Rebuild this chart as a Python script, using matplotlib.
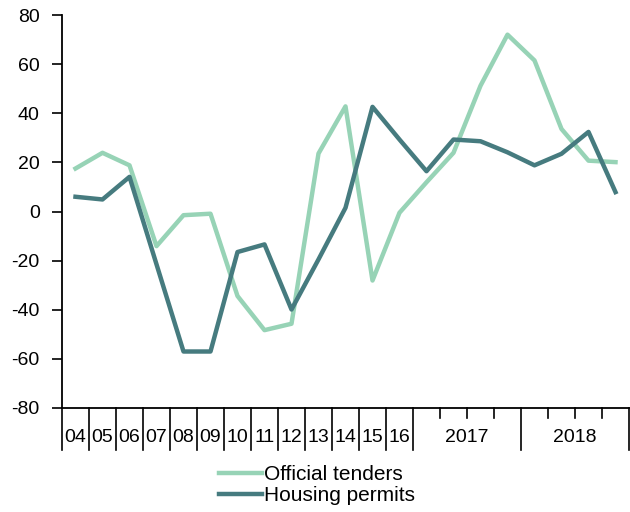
import matplotlib
matplotlib.use("Agg")
import matplotlib.pyplot as plt
from matplotlib.transforms import blended_transform_factory

plt.rcParams['font.family'] = ['Liberation Sans', 'DejaVu Sans']
plt.rcParams['axes.unicode_minus'] = False

year_labels = ["04", "05", "06", "07", "08", "09", "10", "11", "12", "13", "14", "15", "16"]
quarter_years = ["2017", "2018"]
quarters_per_year = 4

official_tenders = [17.5, 23.9, 18.8, -14.1, -1.5, -0.9, -34.4, -48.3, -45.7, 23.6, 42.8,
                    -28.1, -0.5, 11.9, 23.9, 51.2, 72.0, 61.5, 33.6, 20.7, 20.1]
housing_permits = [6.0, 4.9, 14.1, -21.5, -57.0, -57.0, -16.5, -13.4, -39.9, -19.5, 1.5,
                   42.6, 29.3, 16.4, 29.3, 28.6, 24.1, 18.8, 23.5, 32.4, 7.9]

c_tender = "#97D3B6"
c_permit = "#467B7F"

fig = plt.figure(figsize=(6.3, 5.12), dpi=100)
ax = fig.add_axes([62/630, 1-408/512, 567/630, 393/512])

n = len(official_tenders)
x = list(range(n))
ax.plot(x, official_tenders, color=c_tender, lw=3.2, label="Official tenders")
ax.plot(x, housing_permits, color=c_permit, lw=3.2, label="Housing permits")

ax.set_xlim(-0.5, n - 0.5)
ax.set_ylim(-80, 80)
ax.set_yticks(range(-80, 81, 20))
ax.tick_params(axis='y', direction='out', length=7, width=1.2, pad=9, labelsize=14)
ax.set_xticks([])
for s in ['top', 'right']:
    ax.spines[s].set_visible(False)
ax.spines['left'].set_linewidth(1.3)
ax.spines['bottom'].set_linewidth(1.3)

trans = blended_transform_factory(ax.transData, ax.transAxes)
long_len = 42/393
short_len = 10/393
ny = len(year_labels)
long_bounds = [i - 0.5 for i in range(ny + 1)]
short_bounds = []
for k in range(len(quarter_years)):
    start = ny + k * quarters_per_year
    long_bounds.append(start + quarters_per_year - 0.5)
    for q in range(1, quarters_per_year):
        short_bounds.append(start + q - 0.5)
for b in long_bounds:
    ax.plot([b, b], [0, -long_len], color='black', lw=1.2, transform=trans, clip_on=False)
for b in short_bounds:
    ax.plot([b, b], [0, -short_len], color='black', lw=1.2, transform=trans, clip_on=False)

label_y = -30/393
for i, lab in enumerate(year_labels):
    ax.text(i, label_y, lab, transform=trans, ha='center', va='center', fontsize=14)
for k, lab in enumerate(quarter_years):
    cx = ny + k * quarters_per_year + (quarters_per_year - 1) / 2
    ax.text(cx, label_y, lab, transform=trans, ha='center', va='center', fontsize=14)

fig.legend(loc='center', bbox_to_anchor=(317/630, 1 - 485/512), frameon=False,
           fontsize=15, handlelength=2.1, handletextpad=0.1, labelspacing=0.1,
           borderpad=0, borderaxespad=0)

fig.savefig("out.png", dpi=100)
